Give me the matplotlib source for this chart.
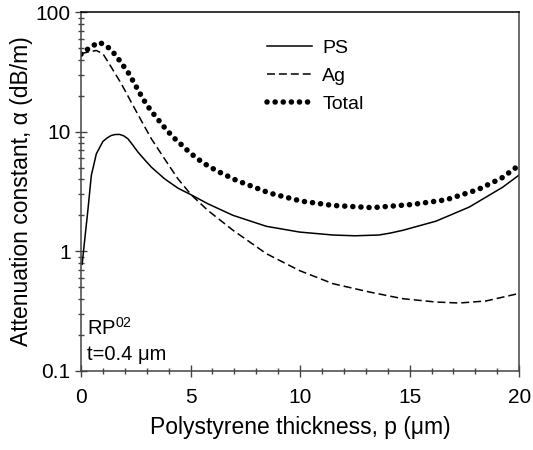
import numpy as np
import matplotlib
matplotlib.use("Agg")
import matplotlib.pyplot as plt
from matplotlib.ticker import FixedLocator, NullFormatter

plt.rcParams['font.family'] = ['Liberation Sans', 'DejaVu Sans']
plt.rcParams['mathtext.fontset'] = 'custom'
plt.rcParams['mathtext.rm'] = 'Liberation Sans'

# PS contribution
x_ps = [0.05, 0.32, 0.47, 0.70, 1.0, 1.2, 1.38, 1.55, 1.76, 1.95, 2.14, 2.35, 2.6, 2.9,
        3.21, 3.81, 4.42, 5.03, 5.79, 6.94, 8.46, 9.98, 11.5, 12.5, 13.6, 14.1, 14.69,
        16.21, 17.73, 19.25, 20.0]
y_ps = [0.78, 2.27, 4.31, 6.55, 8.3, 8.9, 9.31, 9.48, 9.5, 9.25, 8.74, 7.8, 6.76, 5.85,
        5.06, 4.05, 3.38, 2.97, 2.5, 2.0, 1.62, 1.45, 1.37, 1.35, 1.37, 1.42, 1.5,
        1.79, 2.35, 3.44, 4.35]

# Ag contribution
x_ag = [0.0, 0.35, 0.70, 1.0, 1.38, 1.84, 2.29, 2.75, 3.21, 3.81, 4.42, 5.03, 5.79,
        6.94, 8.46, 9.98, 11.5, 13.17, 14.69, 16.21, 17.27, 18.49, 20.0]
y_ag = [45.0, 46.5, 47.8, 44.9, 34.7, 25.2, 17.7, 12.4, 8.74, 5.95, 4.05, 2.97, 2.2,
        1.5, 0.957, 0.69, 0.537, 0.457, 0.402, 0.377, 0.37, 0.385, 0.445]

# Total
x_tot = [0.0, 0.09, 0.47, 0.84, 1.2, 1.57, 1.89, 2.17, 2.42, 2.66, 2.9, 3.18, 3.51,
         3.84, 4.21, 4.57, 4.94, 5.30, 5.67, 6.03, 6.38, 7.1, 8.61, 10.06, 11.5,
         13.3, 15.15, 16.67, 18.11, 19.2, 20.0]
y_tot = [44.5, 45.7, 51.6, 56.0, 51.6, 44.0, 36.5, 30.9, 25.7, 21.4, 18.0, 15.1, 12.7,
         10.7, 9.0, 7.83, 6.76, 5.98, 5.36, 4.91, 4.54, 3.92, 3.07, 2.63, 2.42,
         2.32, 2.47, 2.70, 3.28, 4.1, 5.25]

yticks = [0.1, 1, 10, 100]
ytick_labels = ['0.1', '1', '10', '100']
xticks = [0, 5, 10, 15, 20]

fig = plt.figure(figsize=(5.33, 4.5), dpi=100)
ax = fig.add_axes([0.152, 0.1756, 0.822, 0.7974])

ax.plot(x_ps, y_ps, color='black', lw=1.1, label='PS')
ax.plot(x_ag, y_ag, color='black', lw=1.1, ls=(0, (5.2, 2.6)), label='Ag')
ax.plot(x_tot, y_tot, color='black', lw=4.0, ls=(0, (0.01, 1.45)),
        dash_capstyle='round', label='Total')

ax.set_yscale('log')
ax.set_xlim(0, 20)
ax.set_ylim(0.1, 100)
ax.set_xticks(xticks)
ax.xaxis.set_minor_locator(FixedLocator(np.arange(0, 21, 1)))
ax.yaxis.set_major_locator(FixedLocator(yticks))
ax.set_yticklabels(ytick_labels)
ax.yaxis.set_minor_locator(FixedLocator([m * d for d in [0.1, 1, 10] for m in range(2, 10)]))
ax.yaxis.set_minor_formatter(NullFormatter())

ax.tick_params(which='major', direction='inout', length=9, width=1.0, labelsize=15,
               color='#444444', top=False, right=False)
ax.tick_params(which='minor', direction='inout', length=5, width=1.0,
               color='#444444', top=False, right=False)
ax.tick_params(axis='x', pad=8)
ax.tick_params(axis='y', pad=3)
for s in ax.spines.values():
    s.set_color('#444444')
    s.set_linewidth(1.1)
ax.spines['top'].set_color('black')

ax.set_xlabel('Polystyrene thickness, p (μm)', fontsize=16.5, labelpad=6)
ax.set_ylabel('Attenuation constant, α (dB/m)', fontsize=16.5, labelpad=2)

ax.text(0.014, 0.10, r'RP$^{\mathregular{02}}$', transform=ax.transAxes, fontsize=14.5)
ax.text(0.014, 0.031, 't=0.4 μm', transform=ax.transAxes, fontsize=14.5)

ax.legend(loc='upper left', bbox_to_anchor=(0.424, 0.925), frameon=False, fontsize=14,
          handlelength=2.3, handletextpad=0.55, labelspacing=0.55, borderpad=0,
          borderaxespad=0)

fig.savefig('out.png', dpi=100)
